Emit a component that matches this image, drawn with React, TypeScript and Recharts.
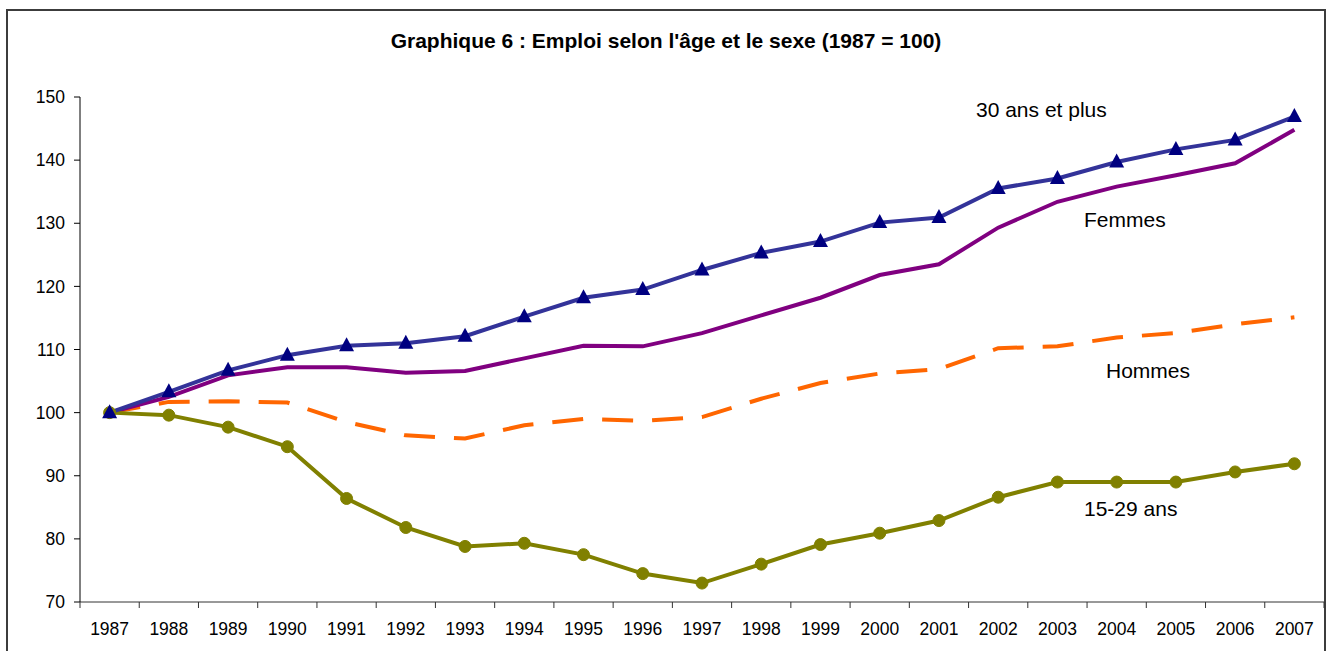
import React from "react";
import { LineChart, Line, XAxis, YAxis } from "recharts";

const years = [
  1987, 1988, 1989, 1990, 1991, 1992, 1993, 1994, 1995, 1996, 1997,
  1998, 1999, 2000, 2001, 2002, 2003, 2004, 2005, 2006, 2007,
];

// 30 ans et plus
const plus30 = [
  100, 103.3, 106.7, 109.1, 110.6, 111.0, 112.1, 115.2, 118.2, 119.5, 122.6,
  125.3, 127.1, 130.1, 130.9, 135.5, 137.1, 139.7, 141.7, 143.2, 146.9,
];

const femmes = [
  100, 102.5, 105.9, 107.2, 107.2, 106.3, 106.6, 108.6, 110.6, 110.5, 112.6,
  115.4, 118.2, 121.8, 123.5, 129.3, 133.4, 135.8, 137.6, 139.5, 144.8,
];

const hommes = [
  100, 101.7, 101.8, 101.6, 98.5, 96.4, 95.9, 98.0, 99.0, 98.7, 99.3,
  102.2, 104.7, 106.2, 106.9, 110.2, 110.5, 111.9, 112.6, 114.0, 115.1,
];

// 15-29 ans
const jeunes = [
  100, 99.6, 97.7, 94.6, 86.4, 81.8, 78.8, 79.3, 77.5, 74.5, 73.0,
  76.0, 79.1, 80.9, 82.9, 86.6, 89.0, 89.0, 89.0, 90.6, 91.9,
];

const yTicks = [70, 80, 90, 100, 110, 120, 130, 140, 150];

const data = years.map((year, i) => ({
  year,
  plus30: plus30[i],
  femmes: femmes[i],
  hommes: hommes[i],
  jeunes: jeunes[i],
}));

// tick marks sit between the years, like the original spreadsheet chart
const yearBounds = [...years.map((y) => y - 0.5), years[years.length - 1] + 0.5];
const xDomain = [yearBounds[0], yearBounds[yearBounds.length - 1]];
const xTicks = [...years, ...yearBounds].sort((a, b) => a - b);

const FONT = "Arial, 'Liberation Sans', sans-serif";
const LABEL_GAP = 21;
const TICK_LEN = 6;

function YearTick(props: any) {
  const { x, y, payload } = props;
  const v = payload.value;
  if (Number.isInteger(v)) {
    return (
      <text x={x} y={y} dy="0.71em" textAnchor="middle" fontSize={17.5} fill="#000" fontFamily={FONT}>
        {v}
      </text>
    );
  }
  const axisY = y - LABEL_GAP;
  return <line x1={x} x2={x} y1={axisY} y2={axisY + TICK_LEN} stroke="#333" strokeWidth={1} />;
}

function Triangle(props: any) {
  const { cx, cy } = props;
  if (cx == null || cy == null) return null;
  return (
    <polygon
      points={`${cx},${cy - 8.5} ${cx - 7.5},${cy + 5.5} ${cx + 7.5},${cy + 5.5}`}
      fill="#000080"
    />
  );
}

export default function App() {
  return (
    <div
      style={{
        position: "absolute",
        left: 0,
        top: 0,
        width: 1326,
        height: 651,
        overflow: "hidden",
        background: "#fff",
        fontFamily: FONT,
      }}
    >
      <div
        style={{
          position: "absolute",
          left: 6,
          top: 9,
          width: 1320,
          height: 720,
          border: "2px solid #3c3c3c",
          boxSizing: "border-box",
        }}
      />
      <LineChart
        width={1326}
        height={651}
        data={data}
        margin={{ top: 97, right: 2, bottom: 0, left: 0 }}
        style={{ position: "absolute", left: 0, top: 0 }}
      >
        <XAxis
          type="number"
          dataKey="year"
          domain={xDomain}
          ticks={xTicks}
          interval={0}
          height={49}
          tickLine={false}
          axisLine={{ stroke: "#333" }}
          tickSize={0}
          tickMargin={LABEL_GAP}
          tick={<YearTick />}
        />
        <YAxis
          type="number"
          domain={[70, 150]}
          ticks={yTicks}
          interval={0}
          width={80}
          tickSize={6}
          tickMargin={9}
          tickLine={{ stroke: "#000" }}
          axisLine={{ stroke: "#000" }}
          tick={{ fontSize: 17.5, fill: "#000", fontFamily: FONT }}
        />
        <Line
          dataKey="hommes"
          stroke="#ff6600"
          strokeWidth={4}
          strokeDasharray="31 19"
          dot={false}
          isAnimationActive={false}
        />
        <Line
          dataKey="femmes"
          stroke="#800080"
          strokeWidth={4}
          dot={false}
          isAnimationActive={false}
        />
        <Line
          dataKey="jeunes"
          stroke="#808000"
          strokeWidth={4}
          dot={{ r: 6, fill: "#808000", stroke: "#808000", strokeWidth: 1 }}
          isAnimationActive={false}
        />
        <Line
          dataKey="plus30"
          stroke="#333399"
          strokeWidth={4}
          dot={<Triangle />}
          isAnimationActive={false}
        />
      </LineChart>
      <svg
        width={1326}
        height={651}
        style={{ position: "absolute", left: 0, top: 0, pointerEvents: "none" }}
        fontFamily={FONT}
      >
        <text x={666} y={47.5} textAnchor="middle" fontSize={21} fontWeight="bold" fill="#000">
          Graphique 6 : Emploi selon l'âge et le sexe (1987 = 100)
        </text>
        <text x={976} y={116.5} fontSize={21} fill="#000">30 ans et plus</text>
        <text x={1084} y={226.5} fontSize={21} fill="#000">Femmes</text>
        <text x={1106} y={378} fontSize={21} fill="#000">Hommes</text>
        <text x={1084} y={516} fontSize={21} fill="#000">15-29 ans</text>
      </svg>
    </div>
  );
}
